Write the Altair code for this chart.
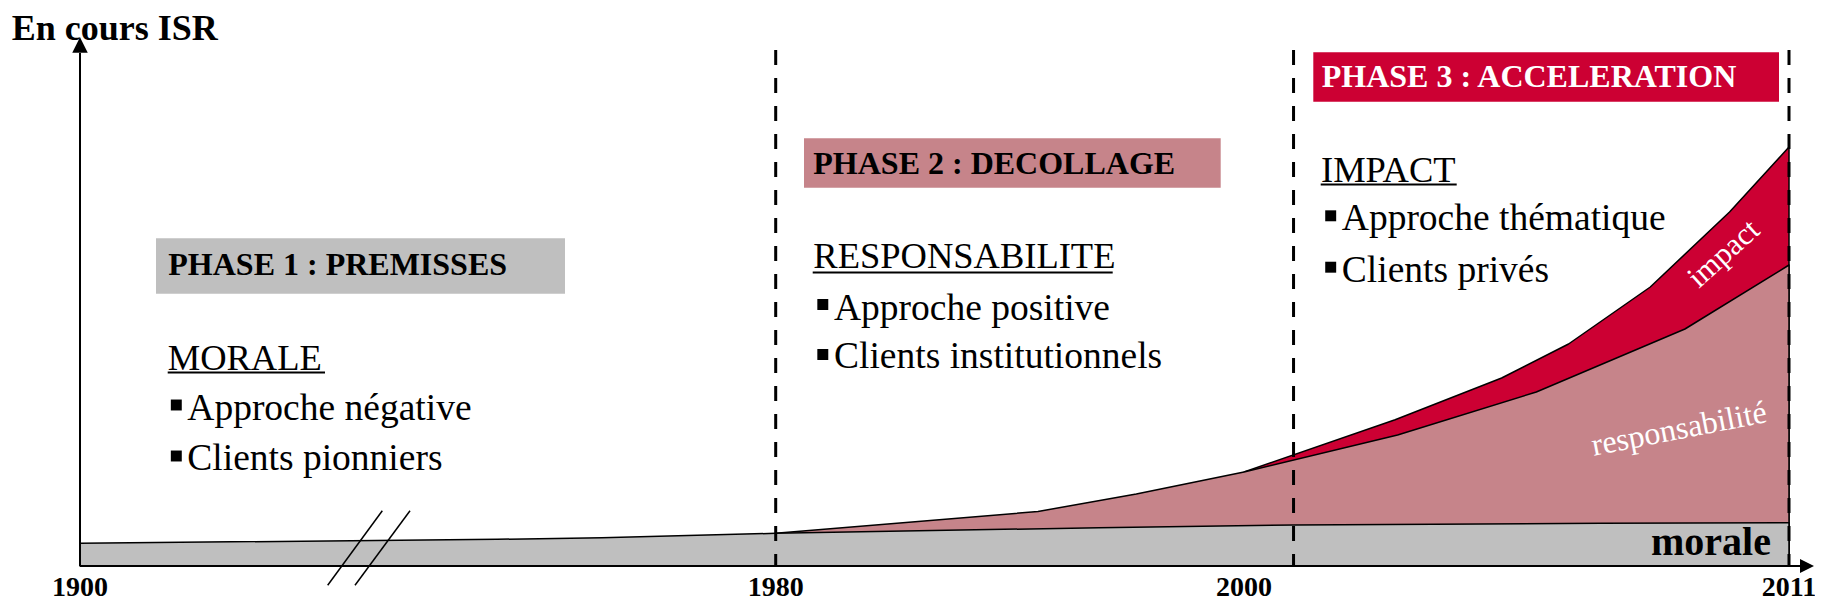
import altair as alt
import pandas as pd

# ---------------- data ----------------
# cumulative levels (arbitrary units, 1 unit ~ 1 px of the original drawing)
morale_years = [1900, 1948, 1960, 1980, 1993.8, 2001, 2007.2, 2011]
morale_level = [22.7, 26.7, 28.3, 32.7, 38.3, 41.0, 42.7, 43.3]

resp_years = [1980, 1991.2, 1995.4, 2000, 2003.1, 2005.9, 2008.9, 2011]
resp_level = [32.7, 54.5, 72, 94, 131, 174, 237, 301]

impact_years = [2000, 2003.05, 2005.2, 2006.55, 2008.2, 2009.8, 2011]
impact_level = [94, 146.3, 188, 222, 279, 354, 419]

axis_years = [1900, 1980, 2000, 2011]
axis_labels = ["1900", "1980", "2000", "2011"]
phase_bounds = [1980, 2001, 2011]

# ---------------- styling ----------------
GREY = "#BFBFBF"
ROSE = "#C6848A"
RED = "#CC0033"
SERIF = "Liberation Serif"
W, H = 1807, 595

# broken (piecewise) time axis, as in the original diagram
xs = alt.Scale(domain=[1900, 1980, 2000, 2011], range=[72, 767.7, 1236, 1781],
               nice=False, zero=False)
ys = alt.Scale(domain=[-37, 558], nice=False, zero=False)

morale_df = pd.DataFrame({"year": morale_years, "level": morale_level})
resp_df = pd.DataFrame({"year": resp_years, "level": resp_level})
impact_df = pd.DataFrame({"year": impact_years, "level": impact_level})
years_df = pd.DataFrame({"year": axis_years, "label": axis_labels})
bounds_df = pd.DataFrame({"year": phase_bounds})
one = pd.DataFrame({"k": [0]})


def area(df, color):
    return alt.Chart(df).mark_area(
        color=color, stroke="black", strokeWidth=1.5, strokeJoin="round"
    ).encode(
        x=alt.X("year:Q", scale=xs, axis=None),
        y=alt.Y("level:Q", scale=ys, axis=None),
        y2=alt.datum(0),
    )


def text(txt, x, y, size, bold=False, color="black", align="left",
         baseline="alphabetic", angle=0):
    kw = dict(text=txt, font=SERIF, fontSize=size, color=color,
              fontWeight="bold" if bold else "normal", align=align,
              baseline=baseline)
    if angle:
        kw["angle"] = angle
    return alt.Chart(one).mark_text(**kw).encode(x=alt.value(x), y=alt.value(y))


def rule(x, y, x2, y2, width=2, dash=None, color="black"):
    kw = dict(color=color, strokeWidth=width)
    if dash:
        kw["strokeDash"] = dash
    return alt.Chart(one).mark_rule(**kw).encode(
        x=alt.value(x), y=alt.value(y), x2=alt.value(x2), y2=alt.value(y2))


def box(x, y, x2, y2, color):
    return alt.Chart(one).mark_rect(color=color).encode(
        x=alt.value(x), y=alt.value(y), x2=alt.value(x2), y2=alt.value(y2))


def bullet(x, y):
    return alt.Chart(one).mark_point(shape="square", filled=True, color="black",
                                     size=120, opacity=1).encode(
        x=alt.value(x), y=alt.value(y))


def arrow(x, y, shape, size):
    return alt.Chart(one).mark_point(shape=shape, filled=True, color="black",
                                     size=size, opacity=1).encode(
        x=alt.value(x), y=alt.value(y))


BODY = 37.5
HEAD = 36.5
PH = 32

layers = [
    # stacked levels (painted back to front)
    area(impact_df, RED),
    area(resp_df, ROSE),
    area(morale_df, GREY),
    # phase boundaries
    alt.Chart(bounds_df).mark_rule(color="black", strokeWidth=3, strokeDash=[15, 13]).encode(
        x=alt.X("year:Q", scale=xs, axis=None), y=alt.value(42), y2=alt.value(558)),
    # axes with arrows
    rule(72, 45, 72, 558, 2),
    arrow(72, 37, "M-1,1L0,-1L1,1Z", 240),
    rule(72, 558, 1800, 558, 2),
    arrow(1799, 558, "M-1,-1L1,0L-1,1Z", 196),
    # axis break marks
    rule(319.7, 577.3, 374.3, 502.7, 1.5),
    rule(347, 577.3, 402, 502.7, 1.5),
    # year labels
    alt.Chart(years_df).mark_text(font=SERIF, fontSize=28, fontWeight="bold",
                                  align="center", baseline="alphabetic", color="black").encode(
        x=alt.X("year:Q", scale=xs, axis=None), y=alt.value(588), text="label:N"),
    # title
    text("En cours ISR", 3.7, 31.5, 36, bold=True),
    # phase 1
    box(148, 230.3, 557, 285.7, GREY),
    text("PHASE 1 : PREMISSES", 160.3, 267, PH, bold=True),
    text("MORALE", 159.7, 362, HEAD),
    rule(159.7, 364.5, 317, 364.5, 2),
    bullet(168.3, 397), text("Approche négative", 179.3, 412, BODY),
    bullet(168.3, 448), text("Clients pionniers", 179.3, 462, BODY),
    # phase 2
    box(796, 130.3, 1212.7, 179.7, ROSE),
    text("PHASE 2 : DECOLLAGE", 805.3, 166, PH, bold=True),
    text("RESPONSABILITE", 805.3, 260.3, HEAD),
    rule(804.7, 264.5, 1104.7, 264.5, 2),
    bullet(814.8, 296.5), text("Approche positive", 826, 312, BODY),
    bullet(814.8, 346.5), text("Clients institutionnels", 826, 360.3, BODY),
    # phase 3
    box(1305.3, 44.3, 1771, 93.7, RED),
    text("PHASE 3 : ACCELERATION", 1313.7, 78.7, PH, bold=True, color="white"),
    text("IMPACT", 1313, 173.7, HEAD),
    rule(1312.7, 176.5, 1448.7, 176.5, 2),
    bullet(1322.7, 207.8), text("Approche thématique", 1333.8, 222, BODY),
    bullet(1322.7, 259.2), text("Clients privés", 1333.8, 273.7, BODY),
    # series labels
    text("impact", 1716, 246, 31, color="white", align="center",
         baseline="middle", angle=318),
    text("responsabilité", 1671, 421, 32, color="white", align="center",
         baseline="middle", angle=349),
    text("morale", 1763, 547, 40, bold=True, align="right"),
]

chart = alt.layer(*layers).properties(
    width=W, height=H, padding=0,
    autosize=alt.AutoSizeParams(type="none"),
    background="white",
).configure_view(stroke=None)

chart.save("out.html", embed_options={"renderer": "svg", "actions": False})
